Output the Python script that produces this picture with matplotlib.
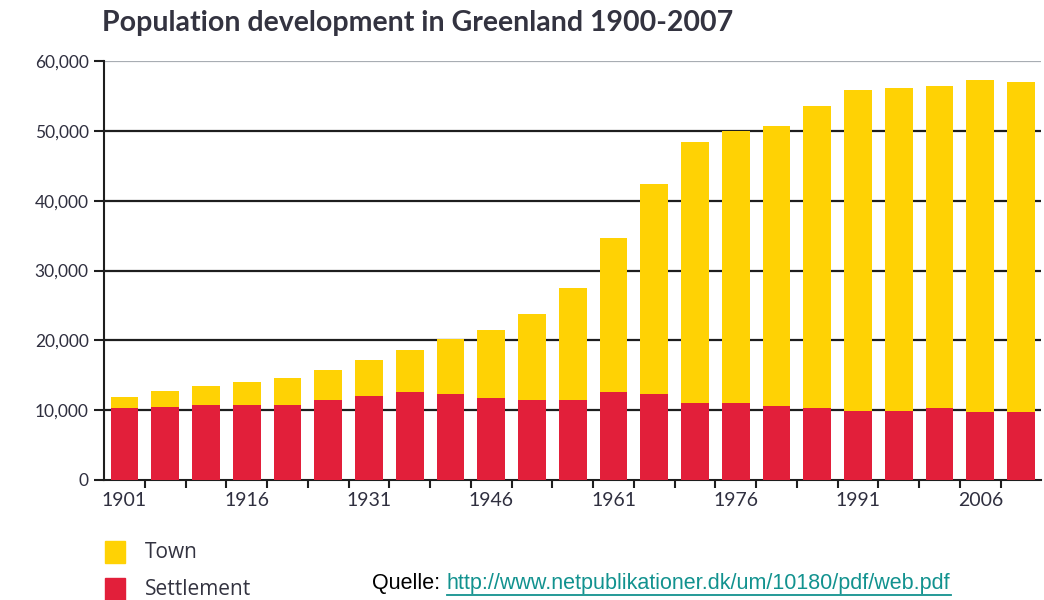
"""
Population development in Greenland 1900-2007, stacked bars (settlement + town).
"""

import numpy as np
import matplotlib.pyplot as plt
from matplotlib.patches import Rectangle

years = [1901, 1906, 1911, 1916, 1921, 1926, 1931, 1936, 1941, 1946, 1951, 1956,
         1961, 1966, 1971, 1976, 1981, 1986, 1991, 1996, 2001, 2006, 2007]
# values (totals and settlement part)
total = [11900, 12800, 13400, 14000, 14600, 15700, 17150, 18600, 20250, 21450,
         23750, 27450, 34650, 42350, 48400, 49950, 50700, 53600, 55850, 56150,
         56450, 57300, 57000]
settlement = [10250, 10500, 10800, 10800, 10800, 11400, 12000, 12550, 12300, 11700,
              11400, 11400, 12550, 12300, 11100, 11100, 10550, 10250, 9950, 9950,
              10250, 9700, 9700]
town = [t - s for t, s in zip(total, settlement)]
labelled_years = [1901, 1916, 1931, 1946, 1961, 1976, 1991, 2006]

YELLOW = "#FFD204"
RED = "#E21F3A"
TEXT = "#2f2f3f"


def main():
    fig = plt.figure(figsize=(10.44, 6), dpi=100)
    ax = fig.add_axes([0.0996, 0.2, 0.898, 0.698])

    x = np.arange(len(years))
    ax.bar(x, settlement, width=0.68, color=RED, zorder=3)
    ax.bar(x, town, bottom=settlement, width=0.68, color=YELLOW, zorder=3)

    ax.set_xlim(-0.5, len(years) - 0.5)
    ax.set_ylim(0, 60000)

    yticks = np.arange(0, 60001, 10000)
    ax.set_yticks(yticks)
    ax.set_yticklabels([f"{v:,}" for v in yticks], fontsize=12.5, color=TEXT,
                       family="Lato")
    for v in yticks[1:-1]:
        ax.axhline(v, color="#1e1e1e", lw=1.6, zorder=1)
    ax.axhline(60000, color="#a8adb3", lw=1.6, zorder=1)

    # labels under every third bar, tick marks between bars
    ax.set_xticks([years.index(y) for y in labelled_years])
    ax.set_xticklabels([str(y) for y in labelled_years], fontsize=14, color=TEXT,
                       family="Lato")
    ax.set_xticks(x[:-1] + 0.5, minor=True)
    ax.tick_params(axis="x", which="major", length=0, pad=9)
    ax.tick_params(axis="x", which="minor", length=6, width=1.5, color="#1e1e1e")
    ax.tick_params(axis="y", length=7, width=1.5, color="#1e1e1e", pad=4)

    for side in ["top", "right"]:
        ax.spines[side].set_visible(False)
    ax.spines["left"].set_linewidth(1.5)
    ax.spines["left"].set_color("#1e1e1e")
    ax.spines["bottom"].set_linewidth(1.5)
    ax.spines["bottom"].set_color("#1e1e1e")

    fig.text(0.098, 0.962, "Population development in Greenland 1900-2007",
             fontsize=20.5, fontweight="bold", color="#333340", family="Lato",
             va="center")

    # legend
    for y0, col, lab in [(0.062, YELLOW, "Town"), (0.0, RED, "Settlement")]:
        fig.add_artist(Rectangle((0.1005, y0), 0.0195, 0.037, color=col,
                                 transform=fig.transFigure))
        fig.text(0.139, y0 + 0.018, lab, fontsize=15, color="#333340",
                 family="Open Sans", va="center")

    fig.text(0.356, 0.028, "Quelle:", fontsize=15.5, color="black",
             family="Liberation Sans", va="center")
    fig.text(0.428, 0.028, "http://www.netpublikationer.dk/um/10180/pdf/web.pdf",
             fontsize=15.5, color="#12928f", family="Liberation Sans", va="center")
    fig.add_artist(plt.Line2D([0.428, 0.911], [0.009, 0.009], color="#12928f",
                              lw=1.3, transform=fig.transFigure))

    fig.savefig("out.png", dpi=100)


if __name__ == "__main__":
    main()
